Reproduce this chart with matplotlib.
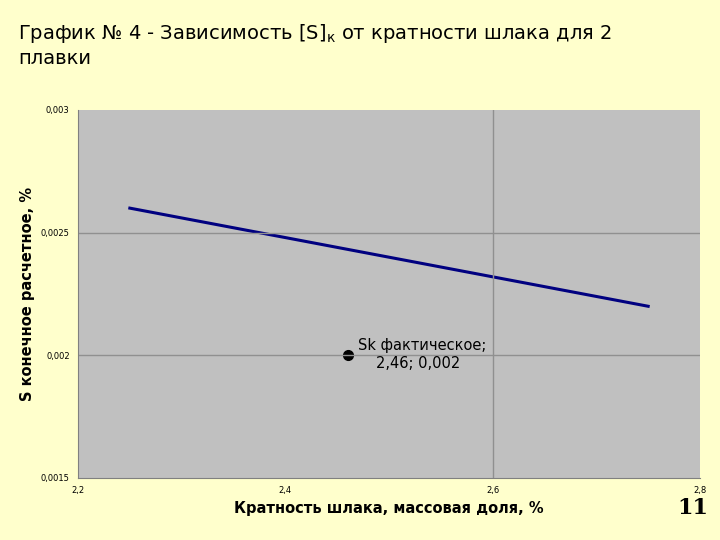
import matplotlib.pyplot as plt

# Data
line_x = [2.25, 2.75]
line_y = [0.0026, 0.0022]
fact_x = [2.46]
fact_y = [0.002]
x_ticks = [2.2, 2.4, 2.6, 2.8]
y_ticks = [0.0015, 0.002, 0.0025, 0.003]
x_labels = ['2,2', '2,4', '2,6', '2,8']
y_labels = ['0,0015', '0,002', '0,0025', '0,003']

bg = '#FFFFCC'
fig = plt.figure(figsize=(7.2, 5.4), dpi=100, facecolor=bg)
ax = fig.add_axes([78 / 720, 1 - 478 / 540, 622 / 720, 368 / 540])
ax.set_facecolor('#C0C0C0')

ax.plot(line_x, line_y, color='#000080', lw=2.2)
ax.plot(fact_x, fact_y, 'o', color='black', ms=7)
ax.text(2.47, 0.00204, 'Sk фактическое;', fontsize=10.5, ha='left', va='center')
ax.text(2.487, 0.001965, '2,46; 0,002', fontsize=10.5, ha='left', va='center')

ax.set_xlim(2.2, 2.8)
ax.set_ylim(0.0015, 0.003)
ax.set_xticks(x_ticks)
ax.set_xticklabels(x_labels, fontsize=6)
ax.set_yticks(y_ticks)
ax.set_yticklabels(y_labels, fontsize=6)
ax.tick_params(length=0, pad=6)
for y in y_ticks[1:-1]:
    ax.axhline(y, color='#909090', lw=1)
ax.axvline(2.6, color='#909090', lw=1)
for s in ax.spines.values():
    s.set_color('#808080')
ax.spines['top'].set_visible(False)
ax.spines['right'].set_visible(False)

ax.set_xlabel('Кратность шлака, массовая доля, %', fontsize=10.5, fontweight='bold')
ax.set_ylabel('S конечное расчетное, %', fontsize=10.5, fontweight='bold')

fig.text(18 / 720, 1 - 45 / 540, 'График № 4 - Зависимость [S]$_\\mathrm{к}$ от кратности шлака для 2\nплавки',
         fontsize=14, ha='left', va='center', linespacing=1.3)
fig.text(693 / 720, 1 - 508 / 540, '11', fontsize=16, fontweight='bold', family='DejaVu Serif',
         ha='center', va='center')

fig.savefig('out.png', dpi=100, facecolor=bg)
